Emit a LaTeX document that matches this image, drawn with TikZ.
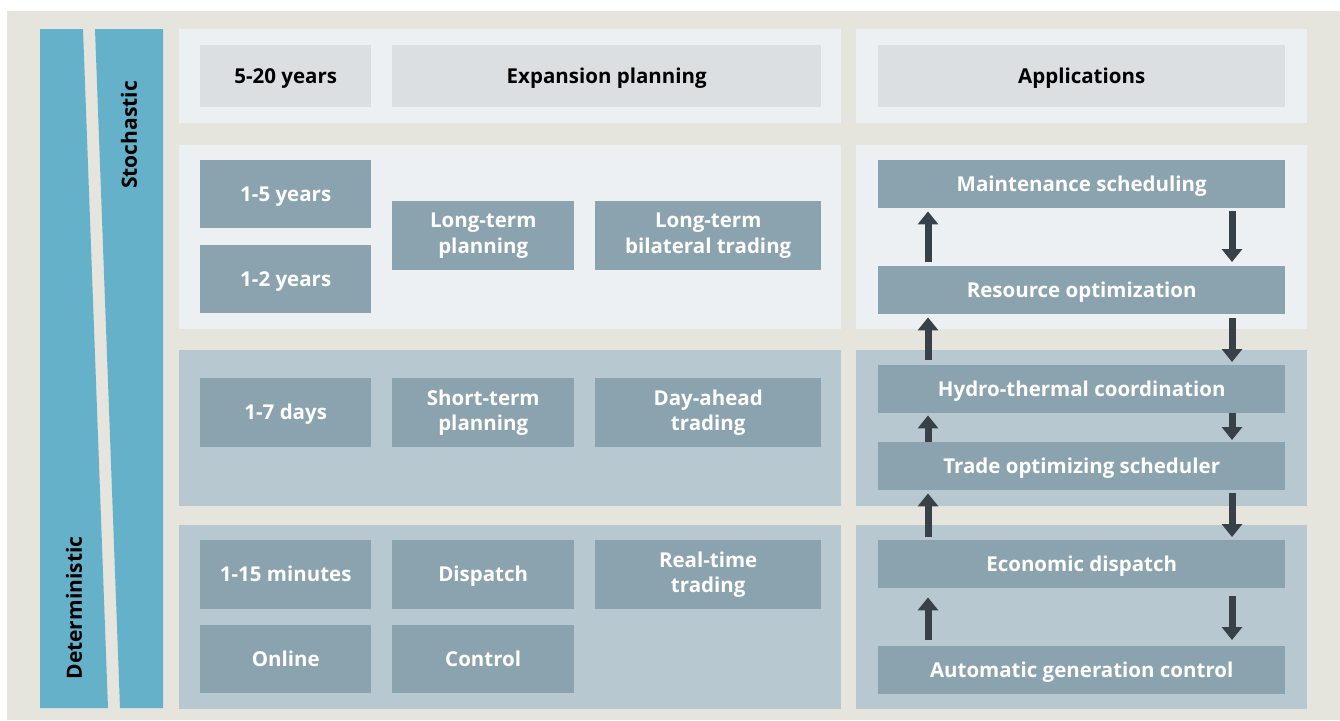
\documentclass[tikz,border=0pt]{standalone}
\usepackage{fontspec}
\setmainfont{Open Sans}
\usepackage{tikz}
\usetikzlibrary{arrows.meta}
\definecolor{framebeige}{RGB}{229,228,221}
\definecolor{panellight}{RGB}{237,240,243}
\definecolor{paneldark}{RGB}{183,200,208}
\definecolor{boxlight}{RGB}{220,223,226}
\definecolor{boxdark}{RGB}{138,163,175}
\definecolor{wedgeblue}{RGB}{102,177,202}
\definecolor{arrowgray}{RGB}{55,65,71}
\newcommand{\cellstrut}{\rule[-0.25em]{0pt}{1.2em}}

\tikzset{
  cell/.style={anchor=north west, inner sep=0pt, align=center,
    font=\fontsize{20.5}{25.5}\selectfont\bfseries,
    execute at begin node=\cellstrut, execute at end node=\cellstrut},
  headcell/.style={cell, fill=boxlight, text=black},
  taskcell/.style={cell, fill=boxdark, text=white},
  wedgelabel/.style={rotate=90, inner sep=0pt,
    font=\fontsize{21}{25}\selectfont\bfseries},
  flow/.style={draw=arrowgray, line width=7pt,
    -{Triangle[width=20pt,length=13pt]}},
}

\begin{document}
\begin{tikzpicture}[x=1pt, y=-1pt]
    \useasboundingbox (0,0) rectangle (1340,720);
    \fill[framebeige] (7,11) rectangle (1340,720);

    % wedges
    \fill[wedgeblue] (40,29) -- (83,29) -- (108,708) -- (40,708) -- cycle;
    \fill[wedgeblue] (95,29) -- (163,29) -- (163,708) -- (120,708) -- cycle;
    \node[wedgelabel] (stoch) at (129,135) {Stochastic};
    \node[wedgelabel] (determ) at (74,608) {Deterministic};

    % panels
    \fill[panellight] (179,29) rectangle (841,123);
    \fill[panellight] (856,29) rectangle (1307,123);
    \fill[panellight] (179,145) rectangle (841,329);
    \fill[panellight] (856,145) rectangle (1307,329);
    \fill[paneldark] (179,350) rectangle (841,506);
    \fill[paneldark] (856,350) rectangle (1307,506);
    \fill[paneldark] (179,525) rectangle (841,709);
    \fill[paneldark] (856,525) rectangle (1307,709);

    % horizon row
    \node[headcell, minimum width=171pt, minimum height=62pt] (y520) at (200,45) {5-20 years};
    \node[headcell, minimum width=429pt, minimum height=62pt] (expand) at (392,45) {Expansion planning};
    \node[headcell, minimum width=407pt, minimum height=62pt] (apps) at (878,45) {Applications};

    % long term
    \node[taskcell, minimum width=171pt, minimum height=68pt] (y15) at (200,160) {1-5 years};
    \node[taskcell, minimum width=171pt, minimum height=68pt] (y12) at (200,245) {1-2 years};
    \node[taskcell, minimum width=182pt, minimum height=69pt] (ltplan) at (392,201) {Long-term\\planning};
    \node[taskcell, minimum width=226pt, minimum height=69pt] (lttrade) at (595,201) {Long-term\\bilateral trading};

    % short term
    \node[taskcell, minimum width=171pt, minimum height=69pt] (d17) at (200,378) {1-7 days};
    \node[taskcell, minimum width=182pt, minimum height=69pt] (stplan) at (392,378) {Short-term\\planning};
    \node[taskcell, minimum width=226pt, minimum height=69pt] (datrade) at (595,378) {Day-ahead\\trading};

    % real time
    \node[taskcell, minimum width=171pt, minimum height=69pt] (m115) at (200,540) {1-15 minutes};
    \node[taskcell, minimum width=171pt, minimum height=68pt] (online) at (200,625) {Online};
    \node[taskcell, minimum width=182pt, minimum height=69pt] (disp) at (392,540) {Dispatch};
    \node[taskcell, minimum width=182pt, minimum height=68pt] (ctrl) at (392,625) {Control};
    \node[taskcell, minimum width=226pt, minimum height=69pt] (rttrade) at (595,540) {Real-time\\trading};

    % applications
    \node[taskcell, minimum width=407pt, minimum height=48pt] (maint) at (878,160) {Maintenance scheduling};
    \node[taskcell, minimum width=407pt, minimum height=48pt] (resopt) at (878,266) {Resource optimization};
    \node[taskcell, minimum width=407pt, minimum height=48pt] (hydro) at (878,365) {Hydro-thermal coordination};
    \node[taskcell, minimum width=407pt, minimum height=48pt] (trade) at (878,442) {Trade optimizing scheduler};
    \node[taskcell, minimum width=407pt, minimum height=48pt] (econ) at (878,540) {Economic dispatch};
    \node[taskcell, minimum width=407pt, minimum height=48pt] (agc) at (878,646) {Automatic generation control};

    % arrows
    \coordinate (upx) at (928,0);
    \coordinate (downx) at (1232,0);
    \draw[flow] ([yshift=4pt]resopt.north -| upx) -- ([yshift=-3pt]maint.south -| upx);
    \draw[flow] ([yshift=-3pt]maint.south -| downx) -- ([yshift=4pt]resopt.north -| downx);
    \draw[flow] ([yshift=5pt]hydro.north -| upx) -- ([yshift=-3pt]resopt.south -| upx);
    \draw[flow] ([yshift=-4pt]resopt.south -| downx) -- ([yshift=3pt]hydro.north -| downx);
    \draw[flow] (trade.north -| upx) -- ([yshift=-2pt]hydro.south -| upx);
    \draw[flow] (hydro.south -| downx) -- ([yshift=2pt]trade.north -| downx);
    \draw[flow] ([yshift=3pt]econ.north -| upx) -- ([yshift=-3pt]trade.south -| upx);
    \draw[flow] ([yshift=-3pt]trade.south -| downx) -- ([yshift=3pt]econ.north -| downx);
    \draw[flow] ([yshift=6pt]agc.north -| upx) -- ([yshift=-9pt]econ.south -| upx);
    \draw[flow] ([yshift=-8pt]econ.south -| downx) -- ([yshift=6pt]agc.north -| downx);
\end{tikzpicture}
\end{document}
